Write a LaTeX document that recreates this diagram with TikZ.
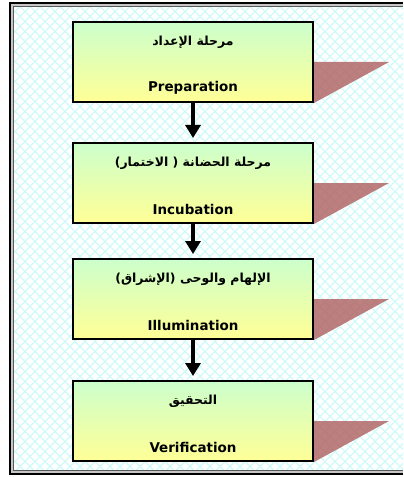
\documentclass[tikz,border=0pt]{standalone}
\usepackage{fontspec}
\setmainfont{DejaVu Sans}
\newfontfamily\arabicfont[Script=Arabic]{DejaVu Sans}
\TeXXeTstate=1
\usetikzlibrary{positioning,arrows.meta,backgrounds}

\definecolor{latticecyan}{RGB}{208,250,250}
\definecolor{topgreen}{RGB}{204,255,204}
\definecolor{botyellow}{RGB}{255,255,150}
\definecolor{shadered}{RGB}{178,104,104}

\tikzset{
  stagebox/.style={draw=black, line width=2bp, minimum width=240bp, minimum height=80bp,
    top color=topgreen, bottom color=botyellow, inner sep=0pt},
  artext/.style={font=\arabicfont\bfseries\fontsize{12.5}{14}\selectfont, inner sep=0pt},
  entext/.style={font=\bfseries\fontsize{13.5}{15}\selectfont, inner sep=0pt},
  shadowtri/.style={fill=shadered, fill opacity=0.85, draw=none},
  flowarrow/.style={line width=4bp, -{Triangle[width=15bp,length=13bp]}, shorten >=4bp},
  lattice/.style={latticecyan, line width=1.2bp},
}

\begin{document}
\begin{tikzpicture}[x=1bp,y=-1bp]
    \useasboundingbox (0,0) rectangle (403,477);
%
    % stages
    \node[stagebox] (prep)  at (193,62)  {};
    \node[stagebox] (incub) at (193,183) {};
    \node[stagebox] (illum) at (193,299) {};
    \node[stagebox] (verif) at (193,421) {};
%
    \node[artext] (prep-ar)  at ([yshift=-21bp]prep.north)  {\beginR مرحلة الإعداد\endR};
    \node[entext] (prep-en)  at ([yshift=15bp]prep.south)   {Preparation};
    \node[artext] (incub-ar) at ([yshift=-21bp]incub.north) {\beginR مرحلة الحضانة ( الاختمار)\endR};
    \node[entext] (incub-en) at ([yshift=15bp]incub.south)  {Incubation};
    \node[artext] (illum-ar) at ([yshift=-21bp]illum.north) {\beginR الإلهام والوحى (الإشراق)\endR};
    \node[entext] (illum-en) at ([yshift=15bp]illum.south)  {Illumination};
    \node[artext] (verif-ar) at ([yshift=-21bp]verif.north) {\beginR التحقيق\endR};
    \node[entext] (verif-en) at ([yshift=15bp]verif.south)  {Verification};
%
    \draw[flowarrow] (prep) -- (incub);
    \draw[flowarrow] (incub) -- (illum);
    \draw[flowarrow] (illum) -- (verif);
%
    \begin{scope}[on background layer]
      % lattice backdrop
      \begin{scope}
        \clip (13.5,6.5) rectangle (403,470.5);
        \foreach \i in {-480,-470,...,880} {
          \draw[lattice] (\i,6.5) -- ++(470,470);
          \draw[lattice] (\i,6.5) -- ++(-470,470);
        }
      \end{scope}
      % shadows
      \foreach \s in {prep,incub,illum,verif}
        \fill[shadowtri] (\s.east) -- ++(75,0) -- (\s.south east) -- cycle;
    \end{scope}
%
    % frame
    \draw[line width=2.5bp] (403,3) -- (10,3) -- (10,474) -- (403,474);
    \draw[line width=1.5bp, gray!45] (403,5) -- (12,5) -- (12,472) -- (403,472);
    \draw[line width=0.8bp, gray!70!black] (403,6.5) -- (13.5,6.5) -- (13.5,470.5) -- (403,470.5);
\end{tikzpicture}
\end{document}
